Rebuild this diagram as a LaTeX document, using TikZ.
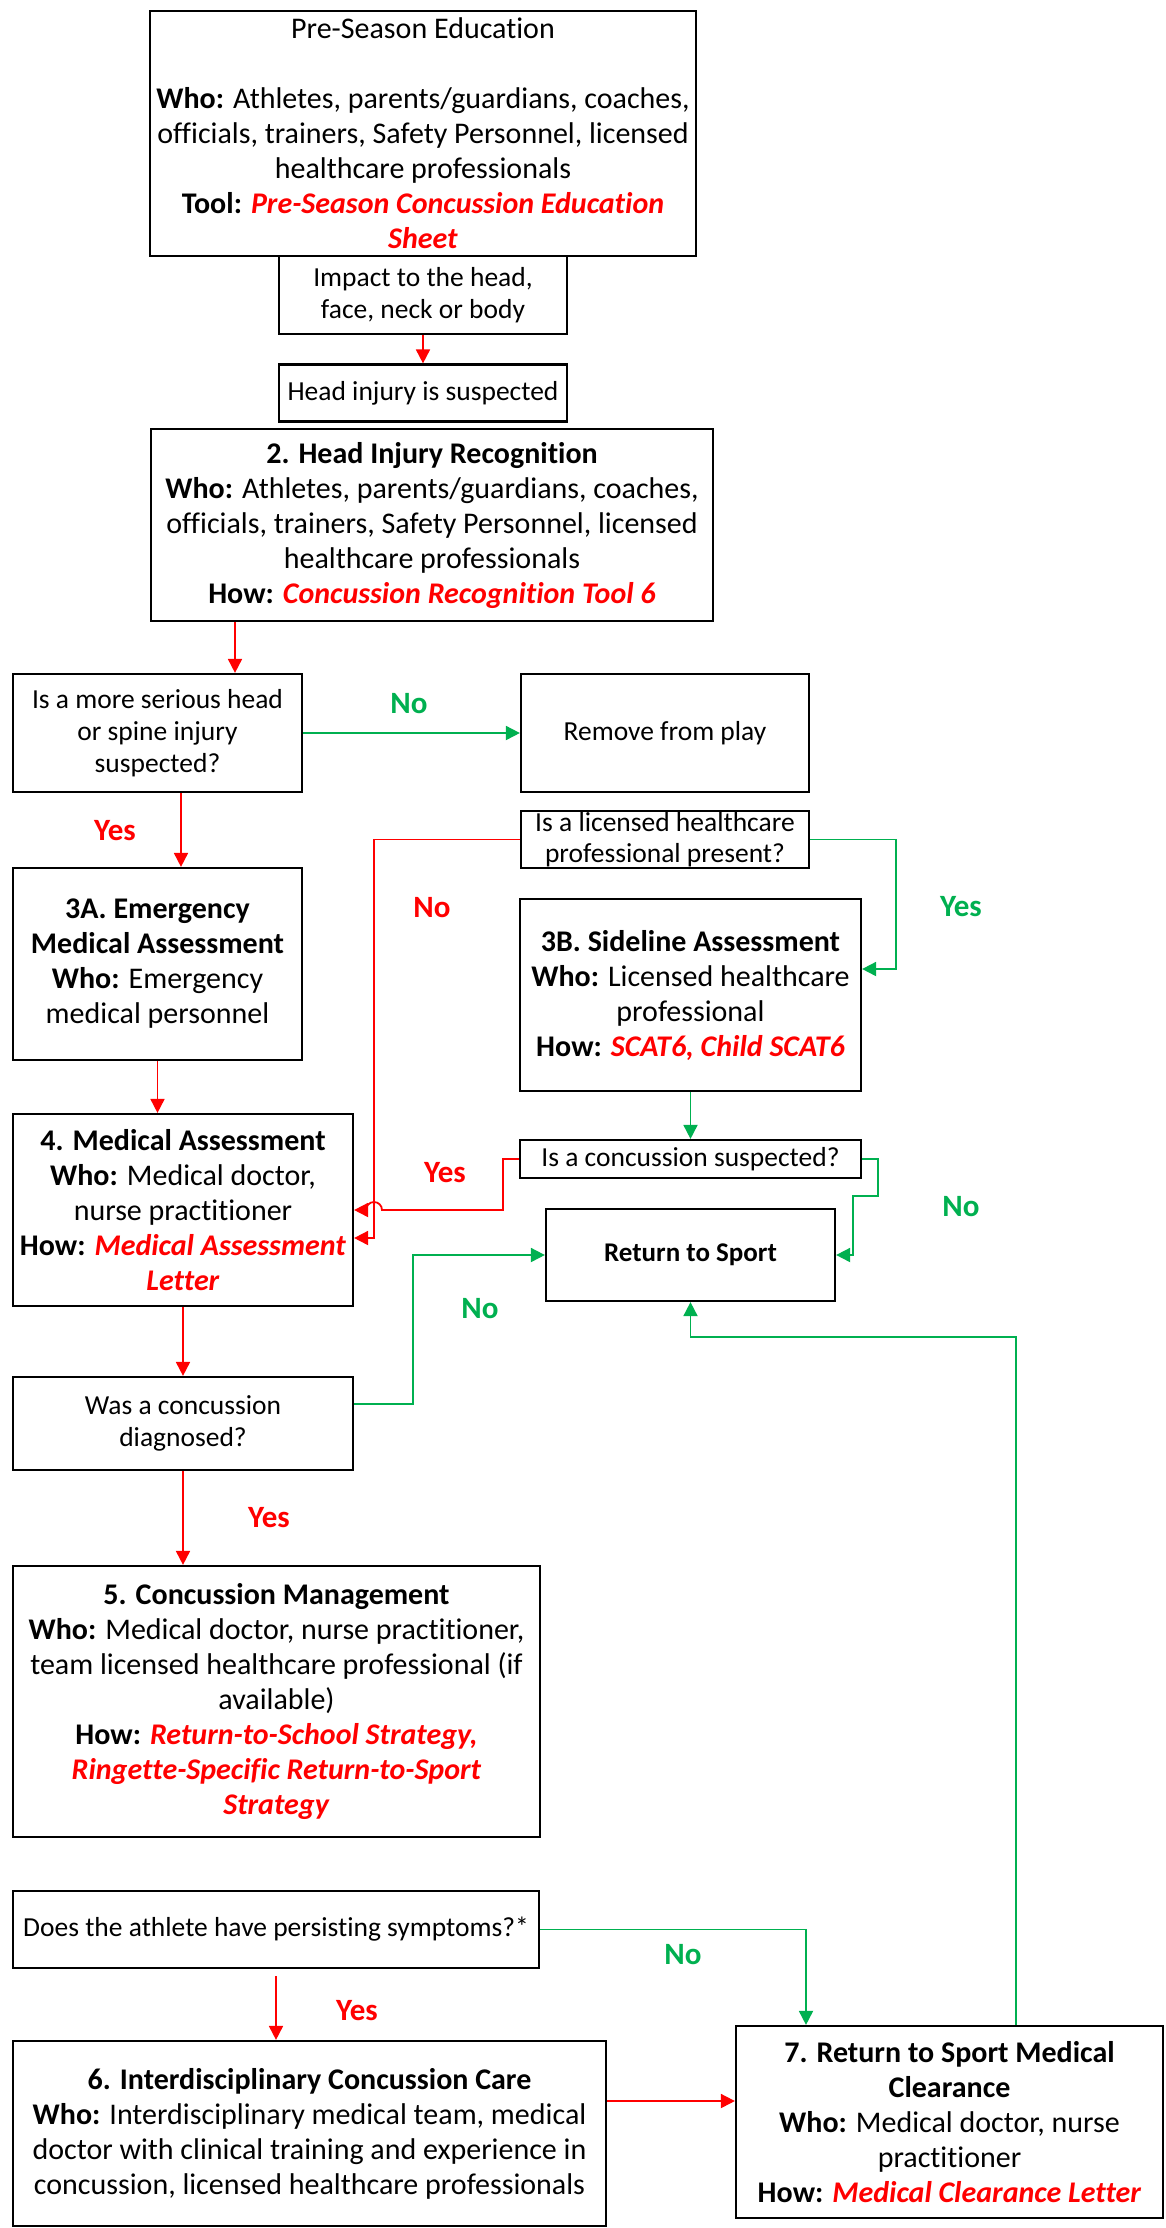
\documentclass[tikz,border=0pt]{standalone}
\usepackage{fontspec}
\setmainfont{Carlito}[Ligatures=NoCommon]
\usetikzlibrary{arrows.meta,calc}
\definecolor{ored}{RGB}{255,0,0}
\definecolor{ogreen}{RGB}{0,176,80}
\newcommand{\rt}[1]{\textcolor{ored}{\textbf{\textit{#1}}}}
\begin{document}
\begin{tikzpicture}[x=1pt,y=-1pt,
  box/.style={draw=black, line width=2.2pt, inner sep=0pt, align=center, font=\fontsize{30}{35}\selectfont},
  qbox/.style={box, font=\fontsize{27.5}{32}\selectfont},
  rarr/.style={draw=ored, line width=1.8pt, -{Triangle[length=14pt,width=14pt]}},
  garr/.style={draw=ogreen, line width=1.8pt, -{Triangle[length=14pt,width=14pt]}},
  rlbl/.style={text=ored, font=\fontsize{31}{36}\selectfont\bfseries},
  glbl/.style={text=ogreen, font=\fontsize{31}{36}\selectfont\bfseries}]
\useasboundingbox[fill=white] (0,0) rectangle (1165,2228);

% boxes
\node[box, minimum width=546pt, minimum height=245pt] (pre) at (423,133.5)
 {Pre-Season Education\\[35pt]\textbf{Who:} Athletes, parents/guardians, coaches,\\officials, trainers, Safety Personnel, licensed\\healthcare professionals\\\textbf{Tool:} \rt{Pre-Season Concussion Education}\\\rt{Sheet}};
\node[qbox, minimum width=288pt, minimum height=78pt] (impact) at (423,295)
 {Impact to the head,\\face, neck or body};
\node[qbox, minimum width=288pt, minimum height=57pt] (head) at (423,393)
 {Head injury is suspected};
\node[box, minimum width=562pt, minimum height=192pt] (rec) at (432,525)
 {\textbf{2. Head Injury Recognition}\\\textbf{Who:} Athletes, parents/guardians, coaches,\\officials, trainers, Safety Personnel, licensed\\healthcare professionals\\\textbf{How:} \rt{Concussion Recognition Tool 6}};
\node[qbox, minimum width=289pt, minimum height=118pt] (serious) at (157.5,733)
 {Is a more serious head\\or spine injury\\suspected?};
\node[qbox, minimum width=288pt, minimum height=118pt] (remove) at (665,733)
 {Remove from play};
\node[qbox, font=\fontsize{27.5}{30.5}\selectfont, minimum width=288pt, minimum height=57pt] (lic) at (665,839.5)
 {Is a licensed healthcare\\professional present?};
\node[box, minimum width=289pt, minimum height=192pt] (emer) at (157.5,964)
 {\textbf{3A. Emergency}\\\textbf{Medical Assessment}\\\textbf{Who:} Emergency\\medical personnel};
\node[box, minimum width=341pt, minimum height=192pt] (side) at (690.5,995)
 {\textbf{3B. Sideline Assessment}\\\textbf{Who:} Licensed healthcare\\professional\\\textbf{How:} \rt{SCAT6, Child SCAT6}};
\node[qbox, minimum width=341pt, minimum height=38pt] (conc) at (690.5,1159)
 {Is a concussion suspected?};
\node[box, minimum width=340pt, minimum height=192pt] (med) at (183,1210)
 {\textbf{4. Medical Assessment}\\\textbf{Who:} Medical doctor,\\nurse practitioner\\\textbf{How:} \rt{Medical Assessment}\\\rt{Letter}};
\node[qbox, minimum width=289pt, minimum height=92pt, font=\fontsize{27}{32}\selectfont\bfseries] (ret) at (690.5,1255)
 {Return to Sport};
\node[qbox, minimum width=340pt, minimum height=93pt] (diag) at (183,1423.5)
 {Was a concussion\\diagnosed?};
\node[box, minimum width=527pt, minimum height=271pt] (mgmt) at (276.5,1701.5)
 {\textbf{5. Concussion Management}\\\textbf{Who:} Medical doctor, nurse practitioner,\\team licensed healthcare professional (if\\available)\\\textbf{How:} \rt{Return-to-School Strategy,}\\\rt{Ringette-Specific Return-to-Sport}\\\rt{Strategy}};
\node[qbox, minimum width=526pt, minimum height=77pt] (pers) at (276,1929.5)
 {Does the athlete have persisting symptoms?*};
\node[box, minimum width=593pt, minimum height=185pt] (care) at (309.5,2133.5)
 {\textbf{6. Interdisciplinary Concussion Care}\\\textbf{Who:} Interdisciplinary medical team, medical\\doctor with clinical training and experience in\\concussion, licensed healthcare professionals};
\node[box, minimum width=427pt, minimum height=192pt] (clear) at (949.5,2122)
 {\textbf{7. Return to Sport Medical}\\\textbf{Clearance}\\\textbf{Who:} Medical doctor, nurse\\practitioner\\\textbf{How:} \rt{Medical Clearance Letter}};

% helper coordinates
\coordinate (x235) at (235,0);
\coordinate (x181) at (181,0);
\coordinate (kNo) at (374,1238);
\coordinate (kY) at (896,969);
\coordinate (kYes) at (503,1210);
\coordinate (kA) at (878,1196);
\coordinate (kB) at (853,1255);
\coordinate (kD) at (413,1404);
\coordinate (kP) at (806,0);
\coordinate (kR) at (0,2101);
\coordinate (kT) at (1016,1337);

% connectors
\draw[rarr] (impact.south) -- (head.north);
\draw[rarr] (rec.south -| x235) -- (serious.north -| x235);
\draw[garr] (serious.east) -- (remove.west);
\draw[rarr] (serious.south -| x181) -- (emer.north -| x181);
\draw[rarr] (emer.south) -- (emer.south |- med.north);
\draw[rarr] (lic.west) -| (kNo) -- (kNo -| med.east);
\draw[garr] (lic.east) -| (kY) -- (kY -| side.east);
\draw[garr] (side.south) -- (conc.north);
\draw[rarr] (conc.west) -| (kYes) -- ($(kNo |- kYes)+(8,0)$) arc[start angle=0, end angle=180, radius=8pt] -- (kYes -| med.east);
\draw[garr] (conc.east) -| (kA) -| (kB) -- (ret.east);
\draw[rarr] (med.south) -- (diag.north);
\draw[garr] (kD -| diag.east) -- (kD) |- (ret.west);
\draw[rarr] (diag.south) -- (diag.south |- mgmt.north);
\draw[garr] (pers.east) -| (clear.north -| kP);
\draw[rarr] ($(pers.south)+(0,7)$) -- (pers.south |- care.north);
\draw[rarr] (care.east |- kR) -- (clear.west |- kR);
\draw[garr] (clear.north -| kT) -- (kT) -| (ret.south);

% labels
\node[glbl] (l1) at (409,704) {No};
\node[rlbl] (l2) at (115,831) {Yes};
\node[rlbl] (l3) at (432,908) {No};
\node[glbl] (l4) at (961,907) {Yes};
\node[rlbl] (l5) at (445,1173) {Yes};
\node[glbl] (l6) at (961,1207) {No};
\node[glbl] (l7) at (480,1309) {No};
\node[rlbl] (l8) at (269,1518) {Yes};
\node[glbl] (l9) at (683,1955) {No};
\node[rlbl] (l10) at (357,2011) {Yes};
\end{tikzpicture}
\end{document}
